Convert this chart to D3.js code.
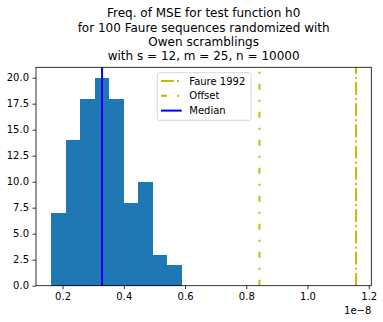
<!DOCTYPE html>
<html><head><meta charset="utf-8">
<script src="https://cdn.jsdelivr.net/npm/d3@7"></script>
<style>body{margin:0;background:#fff}svg{display:block;font-family:"DejaVu Sans",sans-serif}</style>
</head><body><svg id="c" width="383" height="322"></svg>
<script>
// Data (x in units of 1e-8)
const binStart = 0.163;
const binWidth = 0.04744;
const counts = [7, 14, 18, 20, 18, 8, 10, 3, 2];
const lineLabels = ["Faure 1992", "Offset", "Median"];
const lineValues = [1.1585, 0.843, 0.329];
const xTicks = [0.2, 0.4, 0.6, 0.8, 1.0, 1.2];
const yTicks = [0, 2.5, 5, 7.5, 10, 12.5, 15, 17.5, 20];
const titleLines = ["Freq. of MSE for test function h0", "for 100 Faure sequences randomized with", "Owen scramblings", "with s = 12, m = 25, n = 10000"];

const bins = counts.map((c, i) => ({x0: binStart + i*binWidth, x1: binStart + (i+1)*binWidth, n: c}));

const svg = d3.select("#c");
const L = 36, R = 371.3, T = 67.3, B = 285.7;
const xmin = Math.min(binStart, ...lineValues), xmax = Math.max(binStart + counts.length*binWidth, ...lineValues);
const pad = (xmax - xmin)*0.05;
const x = d3.scaleLinear().domain([xmin - pad, xmax + pad]).range([L, R]);
const y = d3.scaleLinear().domain([0, 21]).range([B, T]);

svg.append("g").selectAll("rect").data(bins).join("rect")
  .attr("x", d => x(d.x0)).attr("width", d => x(d.x1) - x(d.x0))
  .attr("y", d => y(d.n)).attr("height", d => y(0) - y(d.n))
  .attr("fill", "#1f77b4").attr("shape-rendering", "crispEdges");

const styles = [
  {color: "#bfbf00", dash: "12.8,3.2,2,3.2"},
  {color: "#bfbf00", dash: "6,10,2,10"},
  {color: "#0000ff", dash: null}
];
lineValues.forEach((v, i) => {
  svg.append("line").attr("x1", x(v)).attr("x2", x(v)).attr("y1", B).attr("y2", T)
    .attr("stroke", styles[i].color).attr("stroke-width", 2)
    .attr("stroke-dasharray", styles[i].dash);
});

const xa = svg.append("g").attr("transform", `translate(0,${B})`)
  .call(d3.axisBottom(x).tickValues(xTicks).tickFormat(d3.format(".1f")).tickSize(3.5).tickPadding(3.5));
const ya = svg.append("g").attr("transform", `translate(${L},0)`)
  .call(d3.axisLeft(y).tickValues(yTicks).tickFormat(d3.format(".1f")).tickSize(3.5).tickPadding(3.5));
[xa, ya].forEach(a => {
  a.select(".domain").remove();
  a.selectAll("line").attr("stroke", "#000").attr("stroke-width", 0.8);
  a.selectAll("text").attr("font-size", 10).attr("fill", "#000").attr("font-family", "DejaVu Sans");
});

svg.append("rect").attr("x", L).attr("y", T).attr("width", R - L).attr("height", B - T)
  .attr("fill", "none").attr("stroke", "#000").attr("stroke-width", 0.8);

svg.append("text").attr("x", R).attr("y", 313.5).attr("text-anchor", "end")
  .attr("font-size", 10).text("1e\u22128");

const tx = (L + R)/2;
svg.append("text").attr("text-anchor", "middle").attr("font-size", 12)
  .selectAll("tspan").data(titleLines).join("tspan")
  .attr("x", tx).attr("y", (d, i) => 17.2 + i*14.4).text(d => d);

// legend
const lg = svg.append("g");
lg.append("rect").attr("x", 157.3).attr("y", 72.7).attr("width", 93.7).attr("height", 47.6)
  .attr("rx", 2).attr("fill", "#fff").attr("fill-opacity", 0.8).attr("stroke", "#cccccc").attr("stroke-width", 0.8);
lineLabels.forEach((lab, i) => {
  const yy = 81 + i*14.8;
  lg.append("line").attr("x1", 161).attr("x2", 181.7).attr("y1", yy).attr("y2", yy)
    .attr("stroke", styles[i].color).attr("stroke-width", 2).attr("stroke-dasharray", styles[i].dash);
  lg.append("text").attr("x", 189.3).attr("y", yy + 3.6).attr("font-size", 10).text(lab);
});
</script></body></html>
